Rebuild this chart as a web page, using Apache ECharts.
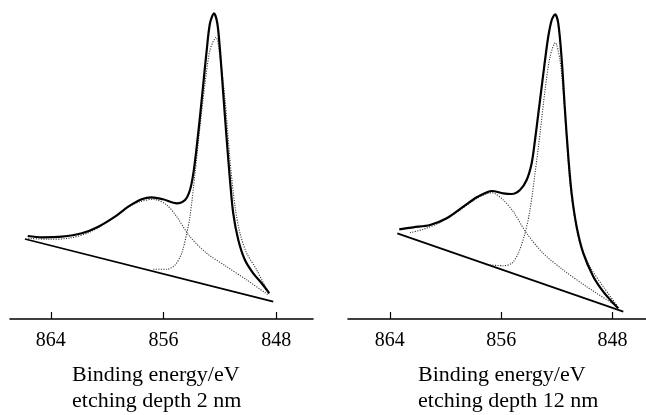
<!DOCTYPE html>
<html>
<head>
<meta charset="utf-8">
<script src="https://cdn.jsdelivr.net/npm/echarts@6/dist/echarts.min.js"></script>
<style>
  html, body { margin: 0; padding: 0; background: #fff; }
  #chart { width: 646px; height: 415px; }
</style>
</head>
<body>
<div id="chart"></div>
<script>
// ---- data (binding energy eV, intensity a.u.) ----
const tickValues = [848, 856, 864];
const axisTitle = 'Binding energy/eV';
const panelLabels = ['etching depth 2 nm', 'etching depth 12 nm'];

// etching depth 2 nm
const envelope2nm = [
  [865.64, 83], [864.65, 81.7], [863.23, 82.3], [861.81, 85.7], [860.63, 92.3],
  [859.45, 102.3], [858.51, 112.3], [857.56, 119.7], [856.85, 121.7], [856.04, 119.7],
  [855.07, 115.7], [854.48, 119], [854.13, 129], [853.89, 145.7], [853.65, 172.3],
  [853.42, 202.3], [853.18, 235.7], [852.94, 269], [852.71, 295.7], [852.42, 305.7],
  [852.19, 295.7], [852.00, 269], [851.77, 225.7], [851.52, 179], [851.29, 139],
  [851.06, 105.7], [850.70, 79], [850.23, 59], [849.64, 45.7], [849.04, 35.7], [848.50, 25.7]
];
const mainPeak2nm = [
  [856.73, 49.7], [855.78, 49.7], [855.19, 54], [854.72, 65.7], [854.36, 85.7],
  [854.13, 102.3], [853.77, 145.7], [853.42, 192.3], [853.06, 235.7], [852.71, 269],
  [852.28, 281.7], [852.00, 262.3], [851.64, 219], [851.29, 159], [850.93, 112.3],
  [850.58, 85.7], [850.10, 65.7], [849.39, 49], [848.57, 25.7]
];
const satellite2nm = [
  [865.60, 80.7], [864.18, 79.7], [862.64, 81], [861.22, 87], [859.80, 99],
  [858.39, 113], [857.68, 117.3], [856.73, 119.7], [855.78, 114], [855.07, 102.3],
  [854.13, 82.3], [852.94, 65.7], [851.52, 52.3], [850.10, 39], [848.57, 24]
];
const background2nm = [[865.84, 80], [848.22, 17.3]];

// etching depth 12 nm
const envelope12nm = [
  [863.32, 89.7], [862.31, 91.7], [861.11, 94], [859.91, 100.7], [858.72, 112.3],
  [857.76, 121.7], [856.92, 127.3], [856.68, 128], [855.85, 125.7], [855.24, 125],
  [854.65, 129], [854.17, 139], [853.81, 155.7], [853.57, 179], [853.33, 205.7],
  [853.09, 232.3], [852.85, 259], [852.62, 282.3], [852.37, 299], [852.13, 304.7],
  [851.90, 295.7], [851.65, 259], [851.42, 209], [851.18, 162.3], [850.94, 125.7],
  [850.58, 92.3], [850.10, 65.7], [849.38, 42.3], [848.67, 27.3], [847.95, 15.7], [847.59, 10.7]
];
const mainPeak12nm = [
  [856.80, 54], [855.85, 53.3], [855.24, 55.7], [854.77, 65.7], [854.29, 85.7],
  [853.93, 109], [853.57, 145.7], [853.21, 185.7], [852.85, 229], [852.49, 262.3],
  [852.11, 276.3], [851.78, 259], [851.54, 225.7], [851.29, 179], [851.06, 135.7],
  [850.70, 99], [850.34, 75.7], [849.62, 52.3], [848.67, 32.3], [847.70, 14]
];
const satellite12nm = [
  [862.55, 86.3], [861.59, 89.7], [860.39, 96.5], [858.96, 109], [857.76, 120.5],
  [856.68, 126.3], [855.85, 119], [855.13, 107.3], [854.17, 85.7], [852.98, 65.7],
  [851.54, 49], [849.86, 32.3], [847.83, 14]
];
const background12nm = [[863.46, 85.7], [847.23, 7.3]];

// ---- chart ----
const serif = 'Liberation Serif';
const chart = echarts.init(document.getElementById('chart'), null, { renderer: 'canvas' });

function xAx(gridIndex, min, max) {
  return {
    type: 'value', gridIndex, min, max, inverse: true,
    axisLine: { show: true, onZero: false, lineStyle: { color: '#000', width: 1.6 } },
    axisTick: { show: true, inside: true, length: 7, customValues: tickValues, lineStyle: { color: '#000', width: 1.2 } },
    axisLabel: { show: true, customValues: tickValues, fontFamily: serif, fontSize: 20, color: '#000', margin: 12 },
    splitLine: { show: false }
  };
}
function yAx(gridIndex) {
  return { type: 'value', gridIndex, min: 0, max: 319, show: false };
}
const solid = (w) => ({ color: '#000', width: w, type: 'solid' });
const dotted = { color: '#333', width: 1.1, type: [1.1, 1.4] };
function line(data, idx, style, z) {
  return { type: 'line', xAxisIndex: idx, yAxisIndex: idx, data, showSymbol: false, symbol: 'none',
           smooth: 0.3, lineStyle: style, silent: true, z: z || 2, animation: false };
}
function label(text, left, top) {
  return { text, left, top, padding: 0,
           textStyle: { fontFamily: serif, fontSize: 22, fontWeight: 'normal', color: '#000' } };
}

chart.setOption({
  animation: false,
  backgroundColor: '#fff',
  grid: [
    { left: 10, width: 303, top: 0, height: 319 },
    { left: 348, width: 298, top: 0, height: 319 }
  ],
  xAxis: [xAx(0, 845.4, 866.9), xAx(1, 845.6, 867.0)],
  yAxis: [yAx(0), yAx(1)],
  title: [
    label(axisTitle, 72, 364),
    label(panelLabels[0], 72, 390),
    label(axisTitle, 418, 364),
    label(panelLabels[1], 418, 390)
  ],
  series: [
    line(background2nm, 0, solid(1.8), 3),
    line(satellite2nm, 0, dotted, 2),
    line(mainPeak2nm, 0, dotted, 2),
    line(envelope2nm, 0, solid(2.2), 4),
    line(background12nm, 1, solid(1.8), 3),
    line(satellite12nm, 1, dotted, 2),
    line(mainPeak12nm, 1, dotted, 2),
    line(envelope12nm, 1, solid(2.2), 4)
  ]
});
</script>
</body>
</html>
